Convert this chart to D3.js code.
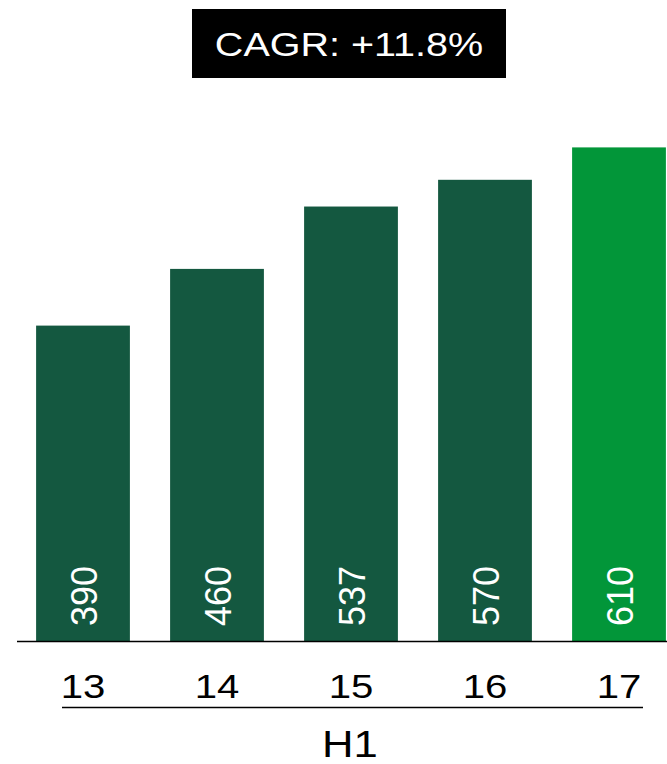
<!DOCTYPE html>
<html>
<head>
<meta charset="utf-8">
<script src="https://cdn.jsdelivr.net/npm/d3@7"></script>
<style>
  html, body { margin: 0; padding: 0; background: #fff; }
  svg { display: block; font-family: "Liberation Sans", Arial, sans-serif; }
</style>
</head>
<body>
<svg id="chart" width="667" height="764"></svg>
<script>
// Half-year (H1) values by year
const categories = ["13", "14", "15", "16", "17"];
const values = [390, 460, 537, 570, 610];
const highlight = ["17"];
const cagrLabel = "CAGR: +11.8%";
const groupLabel = "H1";

const W = 667, H = 764;
const baseY = 641.5;
const stretch = 1.18; // horizontal text stretch

const svg = d3.select("#chart");

const x = d3.scaleBand()
  .domain(categories)
  .range([16, 686])
  .paddingInner(0.3)
  .paddingOuter(0.15);

const y = d3.scaleLinear()
  .domain([0, 700])
  .range([baseY, baseY - 567]);

// Bars
svg.append("g").selectAll("rect")
  .data(categories)
  .join("rect")
  .attr("x", d => x(d))
  .attr("width", x.bandwidth())
  .attr("y", (d, i) => y(values[i]))
  .attr("height", (d, i) => y(0) - y(values[i]))
  .attr("fill", d => highlight.includes(d) ? "#029639" : "#145840");

// Value labels, rotated inside each bar
svg.append("g").selectAll("text")
  .data(categories)
  .join("text")
  .attr("transform", d => `translate(${x(d) + x.bandwidth() / 2 + 13.5},626) rotate(-90)`)
  .attr("text-anchor", "start")
  .attr("fill", "#fff")
  .attr("font-size", 36)
  .text((d, i) => values[i]);

// Baseline
svg.append("line")
  .attr("x1", 17).attr("x2", W)
  .attr("y1", baseY).attr("y2", baseY)
  .attr("stroke", "#000").attr("stroke-width", 1.5);

// Category axis
const axis = svg.append("g")
  .attr("transform", `translate(0,${baseY})`)
  .call(d3.axisBottom(x).tickSize(0).tickPadding(0));
axis.select(".domain").remove();
axis.selectAll(".tick text")
  .attr("font-size", 34)
  .attr("fill", "#000")
  .attr("font-family", "Liberation Sans, Arial, sans-serif")
  .attr("dy", null)
  .attr("y", 0)
  .attr("transform", `translate(0,${698 - baseY}) scale(${stretch},1)`);

// Group bracket line and label
svg.append("line")
  .attr("x1", 62).attr("x2", 643)
  .attr("y1", 707.5).attr("y2", 707.5)
  .attr("stroke", "#000").attr("stroke-width", 1.5);

svg.append("text")
  .attr("transform", `translate(350,757) scale(${stretch},1)`)
  .attr("text-anchor", "middle")
  .attr("font-size", 37)
  .attr("fill", "#000")
  .text(groupLabel);

// CAGR badge
const badge = svg.append("g");
badge.append("rect")
  .attr("x", 192).attr("y", 9)
  .attr("width", 314).attr("height", 69)
  .attr("fill", "#000");
badge.append("text")
  .attr("transform", `translate(349,55.5) scale(${stretch},1)`)
  .attr("text-anchor", "middle")
  .attr("font-size", 33.5)
  .attr("fill", "#fff")
  .text(cagrLabel);
</script>
</body>
</html>
